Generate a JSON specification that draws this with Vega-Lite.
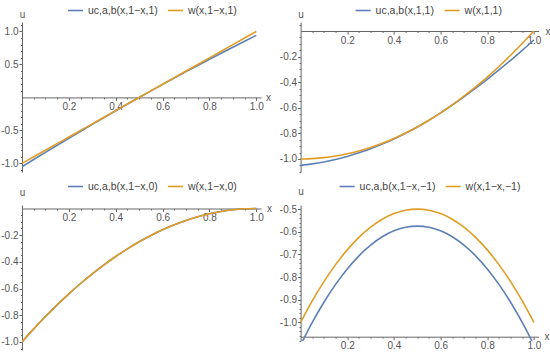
{
  "$schema": "https://vega.github.io/schema/vega-lite/v6.json",
  "padding": {"left": 0, "top": 2, "right": 0, "bottom": 0},
  "background": "white",
  "datasets": {
    "p1": [
      {"x":0,"uc":-1.05,"w":-1},{"x":0.05,"uc":-0.9405,"w":-0.9},{"x":0.1,"uc":-0.832,"w":-0.8},{"x":0.15,"uc":-0.7245,"w":-0.7},
      {"x":0.2,"uc":-0.618,"w":-0.6},{"x":0.25,"uc":-0.5125,"w":-0.5},{"x":0.3,"uc":-0.408,"w":-0.4},{"x":0.35,"uc":-0.3045,"w":-0.3},
      {"x":0.4,"uc":-0.202,"w":-0.2},{"x":0.45,"uc":-0.1005,"w":-0.1},{"x":0.5,"uc":0,"w":0},{"x":0.55,"uc":0.0994,"w":0.1},
      {"x":0.6,"uc":0.1976,"w":0.2},{"x":0.65,"uc":0.2946,"w":0.3},{"x":0.7,"uc":0.3904,"w":0.4},{"x":0.75,"uc":0.485,"w":0.5},
      {"x":0.8,"uc":0.5784,"w":0.6},{"x":0.85,"uc":0.6706,"w":0.7},{"x":0.9,"uc":0.7616,"w":0.8},{"x":0.95,"uc":0.8514,"w":0.9},
      {"x":1,"uc":0.94,"w":1}
    ],
    "p2": [
      {"x":0,"uc":-1.05,"w":-1},{"x":0.05,"uc":-1.0388,"w":-0.9975},{"x":0.1,"uc":-1.0235,"w":-0.99},{"x":0.15,"uc":-1.0039,"w":-0.9775},
      {"x":0.2,"uc":-0.9802,"w":-0.96},{"x":0.25,"uc":-0.9524,"w":-0.9375},{"x":0.3,"uc":-0.9203,"w":-0.91},{"x":0.35,"uc":-0.8841,"w":-0.8775},
      {"x":0.4,"uc":-0.8437,"w":-0.84},{"x":0.45,"uc":-0.7992,"w":-0.7975},{"x":0.5,"uc":-0.7504,"w":-0.75},{"x":0.55,"uc":-0.6975,"w":-0.6975},
      {"x":0.6,"uc":-0.64,"w":-0.64},{"x":0.65,"uc":-0.5786,"w":-0.5775},{"x":0.7,"uc":-0.5144,"w":-0.51},{"x":0.75,"uc":-0.4473,"w":-0.4375},
      {"x":0.8,"uc":-0.3775,"w":-0.36},{"x":0.85,"uc":-0.3048,"w":-0.2775},{"x":0.9,"uc":-0.2294,"w":-0.19},{"x":0.95,"uc":-0.1511,"w":-0.0975},
      {"x":1,"uc":-0.07,"w":0}
    ],
    "p3": [
      {"x":0,"uc":-1,"w":-1},{"x":0.05,"uc":-0.9025,"w":-0.9025},{"x":0.1,"uc":-0.81,"w":-0.81},{"x":0.15,"uc":-0.7225,"w":-0.7225},
      {"x":0.2,"uc":-0.64,"w":-0.64},{"x":0.25,"uc":-0.5625,"w":-0.5625},{"x":0.3,"uc":-0.49,"w":-0.49},{"x":0.35,"uc":-0.4225,"w":-0.4225},
      {"x":0.4,"uc":-0.36,"w":-0.36},{"x":0.45,"uc":-0.3025,"w":-0.3025},{"x":0.5,"uc":-0.25,"w":-0.25},{"x":0.55,"uc":-0.2025,"w":-0.2025},
      {"x":0.6,"uc":-0.16,"w":-0.16},{"x":0.65,"uc":-0.1225,"w":-0.1225},{"x":0.7,"uc":-0.09,"w":-0.09},{"x":0.75,"uc":-0.0625,"w":-0.0625},
      {"x":0.8,"uc":-0.04,"w":-0.04},{"x":0.85,"uc":-0.0225,"w":-0.0225},{"x":0.9,"uc":-0.01,"w":-0.01},{"x":0.95,"uc":-0.0025,"w":-0.0025},
      {"x":1,"uc":0,"w":0}
    ],
    "p4": [
      {"x":0,"uc":-1.1,"w":-1},{"x":0.05,"uc":-1.0003,"w":-0.905},{"x":0.1,"uc":-0.911,"w":-0.82},{"x":0.15,"uc":-0.8323,"w":-0.745},
      {"x":0.2,"uc":-0.764,"w":-0.68},{"x":0.25,"uc":-0.7063,"w":-0.625},{"x":0.3,"uc":-0.659,"w":-0.58},{"x":0.35,"uc":-0.6223,"w":-0.545},
      {"x":0.4,"uc":-0.596,"w":-0.52},{"x":0.45,"uc":-0.5803,"w":-0.505},{"x":0.5,"uc":-0.575,"w":-0.5},{"x":0.55,"uc":-0.5803,"w":-0.505},
      {"x":0.6,"uc":-0.596,"w":-0.52},{"x":0.65,"uc":-0.6223,"w":-0.545},{"x":0.7,"uc":-0.659,"w":-0.58},{"x":0.75,"uc":-0.7063,"w":-0.625},
      {"x":0.8,"uc":-0.764,"w":-0.68},{"x":0.85,"uc":-0.8323,"w":-0.745},{"x":0.9,"uc":-0.911,"w":-0.82},{"x":0.95,"uc":-1.0003,"w":-0.905},
      {"x":1,"uc":-1.1,"w":-1}
    ]
  },
  "columns": 2,
  "bounds": "flush",
  "spacing": {"row": 33, "column": 39.6},
  "resolve": {"scale": {"color": "independent", "x": "independent", "y": "independent"}, "legend": {"color": "independent"}, "axis": {"x": "independent", "y": "independent"}},
  "concat": [
    {
      "width": 239, "height": 150,
      "data": {"name": "p1"},
      "transform": [{"fold": ["uc", "w"], "as": ["s", "v"]}],
      "mark": {"type": "line", "strokeWidth": 1.6, "clip": true, "interpolate": "monotone"},
      "encoding": {
        "x": {"field": "x", "type": "quantitative", "scale": {"domain": [0, 1.02], "nice": false, "zero": false},
          "axis": {"orient": "bottom", "offset": -74.6,
            "values": [0.05,0.1,0.15,0.2,0.25,0.3,0.35,0.4,0.45,0.5,0.55,0.6,0.65,0.7,0.75,0.8,0.85,0.9,0.95,1.0],
            "labelExpr": "abs(datum.value*5-round(datum.value*5))<0.001 ? replace(format(datum.value,'.1f'),'−','-') : ''",
            "tickSize": {"condition": {"test": "abs(datum.value*5-round(datum.value*5))<0.001", "value": 3}, "value": 1.5},
            "title": "x", "titleX": 246, "titleY": 0, "titleAlign": "center", "titleBaseline": "middle"}},
        "y": {"field": "v", "type": "quantitative", "scale": {"domain": [-1.13, 1.143], "nice": false, "zero": false},
          "axis": {"orient": "left",
            "values": [-1.1,-1,-0.9,-0.8,-0.7,-0.6,-0.5,-0.4,-0.3,-0.2,-0.1,0.1,0.2,0.3,0.4,0.5,0.6,0.7,0.8,0.9,1,1.1],
            "labelExpr": "abs(datum.value*2-round(datum.value*2))<0.001 ? replace(format(datum.value,'.1f'),'−','-') : ''",
            "tickSize": {"condition": {"test": "abs(datum.value*2-round(datum.value*2))<0.001", "value": 3}, "value": 1.5},
            "title": "u", "titleX": 0, "titleY": -8, "titleAngle": 0, "titleAlign": "center", "titleBaseline": "middle"}},
        "color": {"field": "s", "type": "nominal", "scale": {"domain": ["uc", "w"], "range": ["#5E81B5", "#E19C24"]},
          "legend": {"orient": "none", "legendX": 45, "legendY": -20, "direction": "horizontal", "title": null,
            "labelExpr": "datum.label=='uc' ? 'uc,a,b(x,1−x,1)' : 'w(x,1−x,1)'"}}
      }
    },
    {
      "width": 238, "height": 150,
      "data": {"name": "p2"},
      "transform": [{"fold": ["uc", "w"], "as": ["s", "v"]}],
      "mark": {"type": "line", "strokeWidth": 1.6, "clip": true, "interpolate": "monotone"},
      "encoding": {
        "x": {"field": "x", "type": "quantitative", "scale": {"domain": [0, 1.02], "nice": false, "zero": false},
          "axis": {"orient": "bottom", "offset": -141,
            "values": [0.05,0.1,0.15,0.2,0.25,0.3,0.35,0.4,0.45,0.5,0.55,0.6,0.65,0.7,0.75,0.8,0.85,0.9,0.95,1.0],
            "labelExpr": "abs(datum.value*5-round(datum.value*5))<0.001 ? replace(format(datum.value,'.1f'),'−','-') : ''",
            "tickSize": {"condition": {"test": "abs(datum.value*5-round(datum.value*5))<0.001", "value": 3}, "value": 1.5},
            "title": "x", "titleX": 247, "titleY": 0, "titleAlign": "center", "titleBaseline": "middle"}},
        "y": {"field": "v", "type": "quantitative", "scale": {"domain": [-1.102, 0.07], "nice": false, "zero": false},
          "axis": {"orient": "left",
            "values": [-1.1,-1.05,-1,-0.95,-0.9,-0.85,-0.8,-0.75,-0.7,-0.65,-0.6,-0.55,-0.5,-0.45,-0.4,-0.35,-0.3,-0.25,-0.2,-0.15,-0.1,-0.05,0.05],
            "labelExpr": "abs(datum.value*5-round(datum.value*5))<0.001 ? replace(format(datum.value,'.1f'),'−','-') : ''",
            "tickSize": {"condition": {"test": "abs(datum.value*5-round(datum.value*5))<0.001", "value": 3}, "value": 1.5},
            "title": "u", "titleX": 0, "titleY": -8, "titleAngle": 0, "titleAlign": "center", "titleBaseline": "middle"}},
        "color": {"field": "s", "type": "nominal", "scale": {"domain": ["uc", "w"], "range": ["#5E81B5", "#E19C24"]},
          "legend": {"orient": "none", "legendX": 54, "legendY": -20, "direction": "horizontal", "title": null,
            "labelExpr": "datum.label=='uc' ? 'uc,a,b(x,1,1)' : 'w(x,1,1)'"}}
      }
    },
    {
      "width": 239, "height": 145,
      "data": {"name": "p3"},
      "transform": [{"fold": ["uc", "w"], "as": ["s", "v"]}],
      "mark": {"type": "line", "strokeWidth": 1.6, "clip": true, "interpolate": "monotone"},
      "encoding": {
        "x": {"field": "x", "type": "quantitative", "scale": {"domain": [0, 1.02], "nice": false, "zero": false},
          "axis": {"orient": "bottom", "offset": -141.5,
            "values": [0.05,0.1,0.15,0.2,0.25,0.3,0.35,0.4,0.45,0.5,0.55,0.6,0.65,0.7,0.75,0.8,0.85,0.9,0.95,1.0],
            "labelExpr": "abs(datum.value*5-round(datum.value*5))<0.001 ? replace(format(datum.value,'.1f'),'−','-') : ''",
            "tickSize": {"condition": {"test": "abs(datum.value*5-round(datum.value*5))<0.001", "value": 3}, "value": 1.5},
            "title": "x", "titleX": 247, "titleY": 0, "titleAlign": "center", "titleBaseline": "middle"}},
        "y": {"field": "v", "type": "quantitative", "scale": {"domain": [-1.061, 0.026], "nice": false, "zero": false},
          "axis": {"orient": "left",
            "values": [-1.05,-1,-0.95,-0.9,-0.85,-0.8,-0.75,-0.7,-0.65,-0.6,-0.55,-0.5,-0.45,-0.4,-0.35,-0.3,-0.25,-0.2,-0.15,-0.1,-0.05],
            "labelExpr": "abs(datum.value*5-round(datum.value*5))<0.001 ? replace(format(datum.value,'.1f'),'−','-') : ''",
            "tickSize": {"condition": {"test": "abs(datum.value*5-round(datum.value*5))<0.001", "value": 3}, "value": 1.5},
            "title": "u", "titleX": 0, "titleY": -13, "titleAngle": 0, "titleAlign": "center", "titleBaseline": "middle"}},
        "color": {"field": "s", "type": "nominal", "scale": {"domain": ["uc", "w"], "range": ["#5E81B5", "#E19C24"]},
          "legend": {"orient": "none", "legendX": 45, "legendY": -27, "direction": "horizontal", "title": null,
            "labelExpr": "datum.label=='uc' ? 'uc,a,b(x,1−x,0)' : 'w(x,1−x,0)'"}}
      }
    },
    {
      "width": 238, "height": 136,
      "data": {"name": "p4"},
      "transform": [{"fold": ["uc", "w"], "as": ["s", "v"]}],
      "mark": {"type": "line", "strokeWidth": 1.6, "clip": true, "interpolate": "monotone"},
      "encoding": {
        "x": {"field": "x", "type": "quantitative", "scale": {"domain": [0, 1.02], "nice": false, "zero": false},
          "axis": {"orient": "bottom", "offset": -4.3,
            "values": [0.05,0.1,0.15,0.2,0.25,0.3,0.35,0.4,0.45,0.5,0.55,0.6,0.65,0.7,0.75,0.8,0.85,0.9,0.95,1.0],
            "labelExpr": "abs(datum.value*5-round(datum.value*5))<0.001 ? replace(format(datum.value,'.1f'),'−','-') : ''",
            "tickSize": {"condition": {"test": "abs(datum.value*5-round(datum.value*5))<0.001", "value": 3}, "value": 1.5},
            "title": "x", "titleX": 246, "titleY": 0, "titleAlign": "center", "titleBaseline": "middle"}},
        "y": {"field": "v", "type": "quantitative", "scale": {"domain": [-1.082, -0.482], "nice": false, "zero": false},
          "axis": {"orient": "left",
            "values": [-1.08,-1.06,-1.04,-1.02,-1,-0.98,-0.96,-0.94,-0.92,-0.9,-0.88,-0.86,-0.84,-0.82,-0.8,-0.78,-0.76,-0.74,-0.72,-0.7,-0.68,-0.66,-0.64,-0.62,-0.6,-0.58,-0.56,-0.54,-0.52,-0.5],
            "labelExpr": "abs(datum.value*10-round(datum.value*10))<0.001 ? replace(format(datum.value,'.1f'),'−','-') : ''",
            "tickSize": {"condition": {"test": "abs(datum.value*10-round(datum.value*10))<0.001", "value": 3}, "value": 1.5},
            "title": "u", "titleX": 0, "titleY": -14, "titleAngle": 0, "titleAlign": "center", "titleBaseline": "middle"}},
        "color": {"field": "s", "type": "nominal", "scale": {"domain": ["uc", "w"], "range": ["#5E81B5", "#E19C24"]},
          "legend": {"orient": "none", "legendX": 38, "legendY": -27, "direction": "horizontal", "title": null,
            "labelExpr": "datum.label=='uc' ? 'uc,a,b(x,1−x,−1)' : 'w(x,1−x,−1)'"}}
      }
    }
  ],
  "config": {
    "view": {"stroke": null},
    "axis": {"grid": false, "domainColor": "#666666", "tickColor": "#666666", "labelColor": "#555555",
      "labelFont": "Liberation Sans", "labelFontSize": 10, "titleFont": "Liberation Sans", "titleFontSize": 10,
      "titleFontWeight": "normal", "titleColor": "#555555", "labelOverlap": false, "labelFlush": false,
      "domainWidth": 1, "tickWidth": 1, "labelPadding": 1},
    "legend": {"symbolType": "stroke", "symbolStrokeWidth": 1.6, "symbolSize": 225, "labelFont": "Liberation Sans",
      "labelFontSize": 10.5, "labelColor": "#444444", "columnPadding": 6, "labelOffset": 4, "padding": 0}
  }
}
